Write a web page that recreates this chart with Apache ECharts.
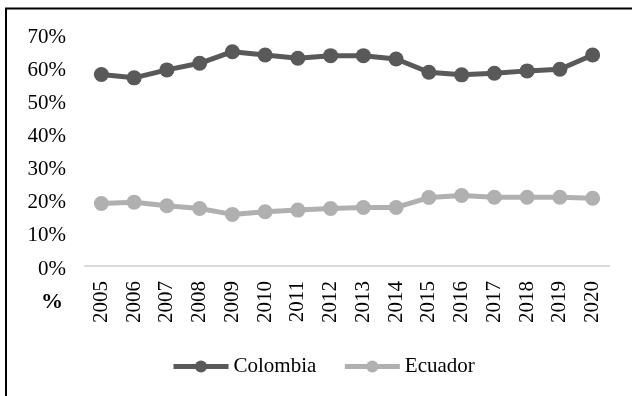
<!DOCTYPE html>
<html>
<head>
<meta charset="utf-8">
<style>
  html, body { margin: 0; padding: 0; background: #ffffff; }
  #chart { width: 632px; height: 396px; }
</style>
<script src="https://cdn.jsdelivr.net/npm/echarts@6/dist/echarts.min.js"></script>
</head>
<body>
<div id="chart"></div>
<script>
// Share (%) by country, 2005–2020
const years = ['2005', '2006', '2007', '2008', '2009', '2010', '2011', '2012',
               '2013', '2014', '2015', '2016', '2017', '2018', '2019', '2020'];
const colombia = [57.9, 56.9, 59.3, 61.3, 64.8, 63.8, 62.8, 63.6,
                  63.6, 62.6, 58.6, 57.8, 58.3, 59.0, 59.5, 63.8];
const ecuador = [18.9, 19.3, 18.2, 17.4, 15.6, 16.4, 16.9, 17.4,
                 17.7, 17.7, 20.7, 21.3, 20.8, 20.8, 20.8, 20.5];
const yTicks = { min: 0, max: 70, step: 10 };

const FONT = 'Liberation Serif';
const FONT_SIZE = 21;
const COLORS = { Colombia: '#595959', Ecuador: '#b0b0b0' };
const chart = echarts.init(document.getElementById('chart'), null, { renderer: 'canvas' });

function lineSeries(name, data) {
  const color = COLORS[name];
  return {
    name: name,
    type: 'line',
    data: data,
    symbol: 'circle',
    symbolSize: 15,
    lineStyle: { color: color, width: 5 },
    itemStyle: { color: color },
    emphasis: { disabled: true },
    animation: false
  };
}

chart.setOption({
  backgroundColor: '#ffffff',
  animation: false,
  textStyle: { fontFamily: FONT },
  grid: { left: 85, right: 23, top: 34.5, bottom: 130, containLabel: false },
  legend: {
    left: 171,
    top: 356,
    padding: 0,
    itemWidth: 55,
    itemHeight: 15,
    itemGap: 26,
    lineStyle: { width: 5 },
    textStyle: { fontFamily: FONT, fontSize: FONT_SIZE, color: '#000000' },
    data: ['Colombia', 'Ecuador']
  },
  xAxis: {
    type: 'category',
    data: years,
    boundaryGap: true,
    axisLine: { lineStyle: { color: '#d9d9d9', width: 2 } },
    axisTick: { show: false },
    axisLabel: {
      rotate: 90,
      margin: 15,
      interval: 0,
      fontFamily: FONT,
      fontSize: FONT_SIZE,
      color: '#000000'
    }
  },
  yAxis: {
    type: 'value',
    min: yTicks.min,
    max: yTicks.max,
    interval: yTicks.step,
    axisLine: { show: false },
    axisTick: { show: false },
    splitLine: { show: false },
    axisLabel: {
      formatter: '{p|{value}%}',
      margin: 19,
      rich: {
        p: {
          fontFamily: FONT,
          fontSize: FONT_SIZE,
          color: '#000000',
          padding: [6, 0, 0, 0]
        }
      }
    }
  },
  graphic: [
    {
      type: 'rect',
      shape: { x: 6, y: 8.5, width: 700, height: 500 },
      style: { fill: 'none', stroke: '#000000', lineWidth: 2 },
      silent: true
    },
    {
      type: 'text',
      x: 52, y: 302,
      style: {
        text: '%', fontFamily: FONT, fontSize: 22, fontWeight: 'bold', fill: '#000000',
        align: 'center', verticalAlign: 'middle'
      }
    }
  ],
  series: [
    lineSeries('Colombia', colombia),
    lineSeries('Ecuador', ecuador)
  ]
});
</script>
</body>
</html>
